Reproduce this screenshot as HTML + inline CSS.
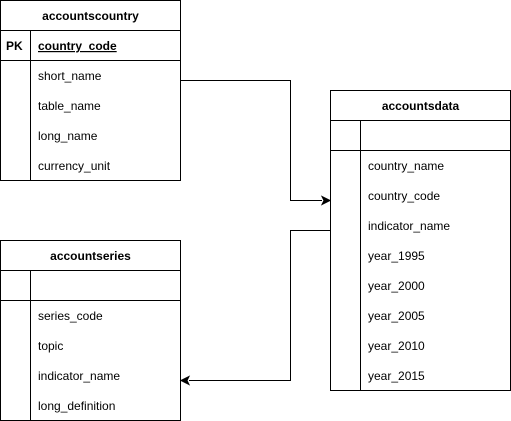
<!DOCTYPE html>
<html><head><meta charset="utf-8"><style>
html,body{margin:0;padding:0;background:#fff;}
svg{display:block;}
text{font-family:"Liberation Sans",Arial,sans-serif;font-size:12px;fill:#000;}
.b{font-weight:bold;}
</style></head><body>
<svg width="511" height="421" viewBox="0 0 511 421" xmlns="http://www.w3.org/2000/svg">
<g fill="none" stroke="#000" stroke-width="1">
<rect x="0.5" y="0.5" width="180" height="180"/>
<line x1="0.5" y1="30.5" x2="180.5" y2="30.5"/>
<line x1="0.5" y1="60.5" x2="180.5" y2="60.5"/>
<line x1="30.5" y1="30.5" x2="30.5" y2="180.5"/>
<rect x="330.5" y="90.5" width="180" height="300"/>
<line x1="330.5" y1="120.5" x2="510.5" y2="120.5"/>
<line x1="330.5" y1="150.5" x2="510.5" y2="150.5"/>
<line x1="360.5" y1="120.5" x2="360.5" y2="390.5"/>
<rect x="0.5" y="240.5" width="180" height="180"/>
<line x1="0.5" y1="270.5" x2="180.5" y2="270.5"/>
<line x1="0.5" y1="300.5" x2="180.5" y2="300.5"/>
<line x1="30.5" y1="270.5" x2="30.5" y2="420.5"/>
<polyline points="180.5,80.5 290.5,80.5 290.5,200.5 322,200.5"/>
<polyline points="330.5,230.5 290.5,230.5 290.5,380.5 189,380.5"/>
</g>
<polygon points="330,200.5 322,196.5 324,200.5 322,204.5" fill="#000" stroke="#000"/>
<polygon points="181,380.5 189,376.5 187,380.5 189,384.5" fill="#000" stroke="#000"/>

<text class="b" x="90.5" y="20" text-anchor="middle">accountscountry</text>
<text class="b" x="6" y="50">PK</text>
<text class="b" x="38" y="50" text-decoration="underline">country_code</text>
<text x="38" y="80">short_name</text>
<text x="38" y="110">table_name</text>
<text x="38" y="140">long_name</text>
<text x="38" y="170">currency_unit</text>

<text class="b" x="420.5" y="110" text-anchor="middle">accountsdata</text>
<text x="368" y="170">country_name</text>
<text x="368" y="200">country_code</text>
<text x="368" y="230">indicator_name</text>
<text x="368" y="260">year_1995</text>
<text x="368" y="290">year_2000</text>
<text x="368" y="320">year_2005</text>
<text x="368" y="350">year_2010</text>
<text x="368" y="380">year_2015</text>

<text class="b" x="90.5" y="260" text-anchor="middle">accountseries</text>
<text x="38" y="320">series_code</text>
<text x="38" y="350">topic</text>
<text x="38" y="380">indicator_name</text>
<text x="38" y="410">long_definition</text>
</svg>
</body></html>
